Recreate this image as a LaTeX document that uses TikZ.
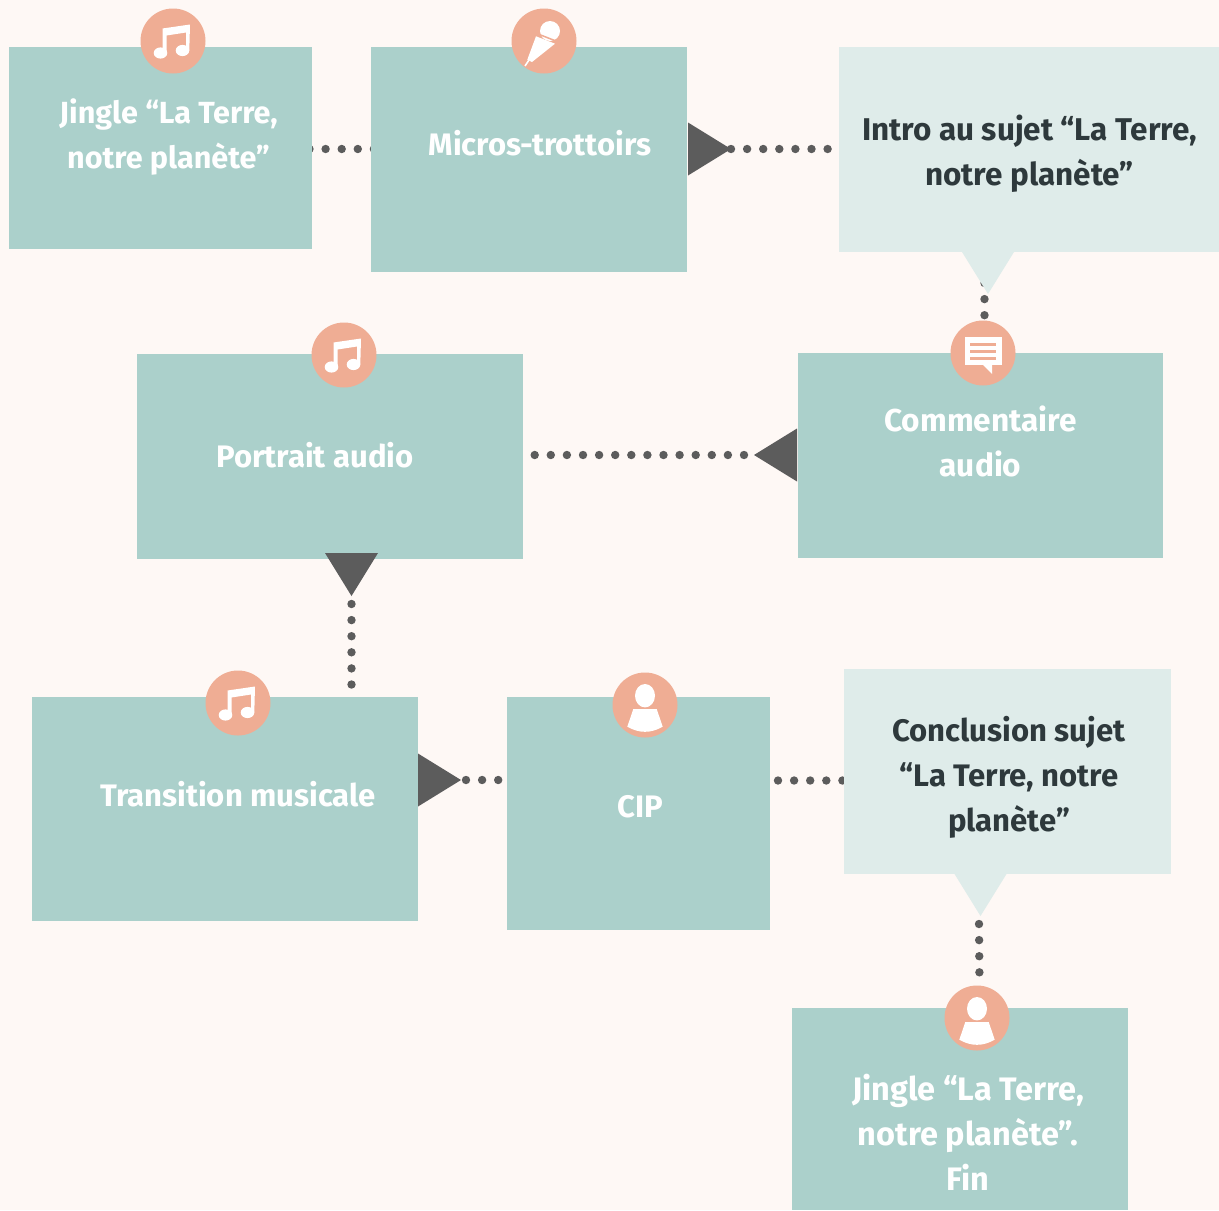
\documentclass[tikz,border=0pt]{standalone}
\usepackage{fontspec}
\setmainfont{Fira Sans}
\usetikzlibrary{shapes.geometric}
\usetikzlibrary{backgrounds}
\usetikzlibrary{calc}
\definecolor{fondpage}{HTML}{FEF8F5}
\definecolor{vert}{HTML}{ABD0CB}
\definecolor{vertclair}{HTML}{DFECEA}
\definecolor{saumon}{HTML}{EFAD94}
\definecolor{gris}{HTML}{5C5C5C}
\definecolor{encre}{HTML}{2E393C}
\newcommand{\px}{0.02cm}
\newcommand{\taille}[1]{\fontsize{#1}{25.6}\selectfont\bfseries}
\tikzset{
  iconenote/.pic={
    \fill[white] (-12.5,12) ellipse (6.8 and 5.6);
    \fill[white] (9.5,9.5) ellipse (6.8 and 5.6);
    \fill[white] (-10.5,12) -- (-10.5,-12.5) -- (17,-16.5) -- (16.3,9.5) -- (13,9.5) -- (13,-8.5) -- (-6.5,-5.5) -- (-6.5,12) -- cycle;
  },
  iconemicro/.pic={
    \fill[white] (6,-10) circle (10);
    \fill[white] (-8,-4.7) -- (11,2.7) -- (-12,21) -- (-16.7,18.7) -- cycle;
    \draw[saumon,line width=1.5*\px] (-8.5,-8) -- (15,1.2);
    \draw[white,line width=1.6*\px] (-15,19) -- (-19,25);
  },
  iconebulle/.pic={
    \fill[white] (-18.5,-16) rectangle (18.5,12);
    \fill[white] (-1,11) -- (9,21) -- (9,11) -- cycle;
    \foreach \y in {-9,-1.7,5}
      \fill[saumon] (-12.7,\y-1.5) rectangle (13.3,\y+1.5);
  },
  iconepersonne/.pic={
    \fill[white] (0,-9.3) ellipse (10 and 11.7);
    \fill[white] (-11.7,4) -- (11.7,4) -- (17.7,21.7) .. controls (6,28.5) and (-6,28.5) .. (-17.7,21.7) -- cycle;
  }
}
\begin{document}
\begin{tikzpicture}[x=\px,y=-\px]
\tikzstyle{boite}=[rectangle,fill=vert,inner sep=0pt,outer sep=0pt]
\tikzstyle{bulle}=[rectangle,fill=vertclair,inner sep=0pt,outer sep=0pt]
\tikzstyle{texte}=[align=center,font=\taille{17.7},text=white,inner sep=0pt]
\tikzstyle{textebulle}=[texte,text=encre]
\tikzstyle{pastille}=[circle,fill=saumon,inner sep=0pt,minimum size=65*\px]
\tikzstyle{fleche}=[isosceles triangle,isosceles triangle stretches,fill=gris,inner sep=0pt,outer sep=0pt,minimum height=43*\px,minimum width=53*\px]
\tikzstyle{queue}=[isosceles triangle,isosceles triangle stretches,fill=vertclair,inner sep=0pt,outer sep=0pt,minimum height=42*\px,minimum width=52*\px,shape border rotate=-90]
\tikzstyle{suite}=[gris,line width=8.4*\px,line cap=round,dash pattern=on 0pt off 16.1*\px]
\useasboundingbox (0,0) rectangle (1219,1210);
%placementdesboites
\node[boite,minimum width=303*\px,minimum height=202*\px] (jingle) at (160.5,148) {};
\node[boite,minimum width=316*\px,minimum height=225*\px] (micros) at (529,159.5) {};
\node[bulle,minimum width=380*\px,minimum height=205*\px] (intro) at (1029,149.5) {};
\node[boite,minimum width=386*\px,minimum height=205*\px] (portrait) at (330,456.5) {};
\node[boite,minimum width=365*\px,minimum height=205*\px] (commentaire) at (980.5,455.5) {};
\node[boite,minimum width=386*\px,minimum height=224*\px] (transition) at (225,809) {};
\node[boite,minimum width=263*\px,minimum height=233*\px] (cip) at (638.5,813.5) {};
\node[bulle,minimum width=327*\px,minimum height=205*\px] (conclusion) at (1007.5,771.5) {};
\node[boite,minimum width=336*\px,minimum height=202*\px] (fin) at (960,1109) {};
%placementdestextes
\node[texte,font=\taille{17.4}] (tjingle) at (168.5,137) {Jingle “La Terre,\\notre planète”};
\node[texte] (tmicros) at (540,143) {Micros\kern-0.6pt-\kern-0.6pt trottoirs};
\node[textebulle,font=\taille{17.9}] (tintro) at (1029.5,154) {Intro au sujet “La Terre,\\notre planète”};
\node[texte] (tportrait) at (315,455) {Portrait audio};
\node[texte,font=\taille{18}] (tcommentaire) at (980.5,441) {Commentaire\\audio};
\node[texte] (ttransition) at (238,794) {Transition musicale};
\node[texte] (tcip) at (640,807) {CIP};
\node[textebulle] (tconclusion) at (1009,777) {Conclusion sujet\\“La Terre, notre\\planète”};
\node[texte,font=\taille{18.5}] (tfin) at (968,1132.5) {Jingle “La Terre,\\notre planète”.\\Fin};
%placementdestriangles
\node[fleche,anchor=lower side] (flecheun) at (688,149) {};
\node[fleche,shape border rotate=180,anchor=lower side] (flechedeux) at (797,455) {};
\node[fleche,shape border rotate=-90,anchor=lower side] (flechetrois) at (351.5,553) {};
\node[fleche,anchor=lower side] (flechequatre) at (418,780) {};
\node[queue,anchor=lower side] (queueintro) at (988,252) {};
\node[queue,anchor=lower side] (queueconclusion) at (980.5,874) {};
%placementdespastilles
\node[pastille] (picjingle) at (173,41) {};
\node[pastille] (picmicros) at (544,41) {};
\node[pastille] (piccommentaire) at (983,353) {};
\node[pastille] (picportrait) at (344,355) {};
\node[pastille] (pictransition) at (238,703) {};
\node[pastille] (piccip) at (645,705) {};
\node[pastille] (picfin) at (977,1018) {};
\pic at (picjingle) {iconenote};
\pic at (picmicros) {iconemicro};
\pic at (piccommentaire) {iconebulle};
\pic at (picportrait) {iconenote};
\pic at (pictransition) {iconenote};
\pic at (piccip) {iconepersonne};
\pic at (picfin) {iconepersonne};
%placementdespointilles
\begin{pgfonlayer}{background}
\fill[fondpage] (0,0) rectangle (1219,1210);
\draw[suite] (309.5,149) -- ($(micros.west |- 0,149)+(8,0)$);
\draw[suite] (flecheun.apex) -- ($(intro.west |- flecheun.apex)+(-8,0)$);
\draw[suite,shorten <=10*\px] (flechedeux.apex) -- (portrait.east |- flechedeux.apex);
\draw[suite,shorten <=8*\px] (flechetrois.apex) -- (transition.north -| flechetrois.apex);
\draw[suite,shorten <=5*\px] (flechequatre.apex) -- (cip.west |- flechequatre.apex);
\draw[suite] (778,780.5) -- (conclusion.west |- 0,780.5);
\draw[suite] (queueintro.apex) ++(-3.5,-11) -- (piccommentaire.north -| 984.5,0);
\draw[suite] (queueconclusion.apex) ++(-1.5,8) -- (picfin.north -| 979.5,0);
\end{pgfonlayer}
\end{tikzpicture}
\end{document}
